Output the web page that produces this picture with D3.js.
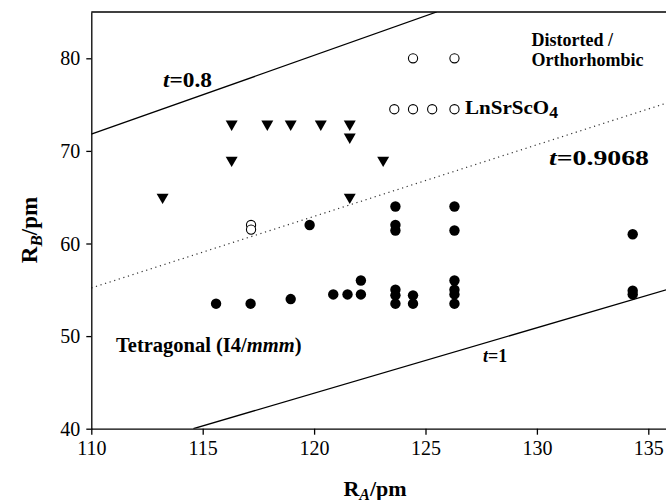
<!DOCTYPE html>
<html>
<head>
<meta charset="utf-8">
<script src="https://cdn.jsdelivr.net/npm/d3@7"></script>
<style>
  body { margin: 0; background: #fff; }
  svg text { font-family: "Liberation Serif", "Times New Roman", serif; }
</style>
</head>
<body>
<svg id="chart" width="666" height="500"></svg>
<script>
// tick labels
var xTicks = [110, 115, 120, 125, 130, 135];
var yTicks = [40, 50, 60, 70, 80];

// filled circles: tetragonal
var fillA = [115.6, 117.15, 118.95, 119.8, 120.86, 121.5, 122.1, 122.1,
             123.65, 123.65, 123.65, 123.65, 123.65, 123.65, 124.44, 124.44,
             126.3, 126.3, 126.3, 126.3, 126.3, 126.3, 134.3, 134.3, 134.3];
var fillB = [53.5, 53.5, 54.0, 62.0, 54.5, 54.5, 54.5, 56.0,
             64.0, 62.0, 61.4, 55.0, 54.4, 53.5, 54.4, 53.5,
             64.0, 61.4, 56.0, 55.0, 54.5, 53.5, 61.0, 54.9, 54.5];

// open circles: LnSrScO4
var openA = [124.44, 126.3, 123.6, 124.44, 125.3, 126.3, 117.17, 117.17];
var openB = [80.0, 80.0, 74.5, 74.5, 74.5, 74.5, 62.0, 61.5];

// triangles
var triA = [113.2, 116.3, 116.3, 117.9, 118.95, 120.3, 121.6, 121.6, 121.6, 123.1];
var triB = [65.0, 69.0, 72.9, 72.9, 72.9, 72.9, 72.9, 71.5, 65.0, 69.0];

// tolerance factor lines (end points)
var tNames = ["0.8", "0.9068", "1"];
var tA = [[110, 125.5], [110, 136], [114.58, 136]];
var tB = [[71.8, 85], [55.2, 75.3], [40, 55.14]];

var svg = d3.select("#chart");
var margin = {left: 91.3, top: 12, bottom: 71.3};
var height = +svg.attr("height");
var serif = "'Liberation Serif', 'Times New Roman', serif";

var x = d3.scaleLinear().domain([110, 136]).range([margin.left, margin.left + 26 * 22.28]);
var y = d3.scaleLinear().domain([40, 85]).range([height - margin.bottom, margin.top]);

svg.append("clipPath").attr("id", "clip")
    .append("rect")
    .attr("x", x(110)).attr("y", y(85))
    .attr("width", x(136) - x(110)).attr("height", y(40) - y(85));

// lines
var lineGen = d3.line().x(function(d) { return x(d[0]); }).y(function(d) { return y(d[1]); });
tNames.forEach(function(n, i) {
    svg.append("path")
        .attr("clip-path", "url(#clip)")
        .attr("d", lineGen([[tA[i][0], tB[i][0]], [tA[i][1], tB[i][1]]]))
        .attr("fill", "none")
        .attr("stroke", n == "0.9068" ? "#333" : "#000")
        .attr("stroke-width", n == "0.9068" ? 1.2 : 1.3)
        .attr("stroke-dasharray", n == "0.9068" ? "1.2,3.6" : null);
});

// axes
var xAxis = svg.append("g")
    .attr("transform", "translate(0," + y(40) + ")")
    .call(d3.axisBottom(x).tickValues(xTicks).tickSize(6).tickSizeOuter(0).tickPadding(6));
var yAxis = svg.append("g")
    .attr("transform", "translate(" + x(110) + ",0)")
    .call(d3.axisLeft(y).tickValues(yTicks).tickSize(5).tickSizeOuter(0).tickPadding(6));
[xAxis, yAxis].forEach(function(g) {
    g.attr("font-family", serif).attr("font-size", 20);
    g.selectAll("path, line").attr("stroke", "#000").attr("stroke-width", 1.3);
    g.selectAll("text").attr("fill", "#000");
});
xAxis.selectAll("text").attr("dy", "0.71em");
yAxis.selectAll("text").attr("dy", "0.33em");

// top frame
svg.append("line")
    .attr("x1", x(110)).attr("x2", x(136))
    .attr("y1", y(85)).attr("y2", y(85))
    .attr("stroke", "#000").attr("stroke-width", 1.3);

// markers
svg.selectAll("circle.fill")
    .data(fillA).enter().append("circle")
    .attr("class", "fill")
    .attr("cx", function(d) { return x(d); })
    .attr("cy", function(d, i) { return y(fillB[i]); })
    .attr("r", 5.2)
    .attr("fill", "#000");

svg.selectAll("circle.open")
    .data(openA).enter().append("circle")
    .attr("class", "open")
    .attr("cx", function(d) { return x(d); })
    .attr("cy", function(d, i) { return y(openB[i]); })
    .attr("r", 4.6)
    .attr("fill", "#fff")
    .attr("stroke", "#000")
    .attr("stroke-width", 1.1);

var tri = d3.symbol().type(d3.symbolTriangle).size(62);
svg.selectAll("path.tri")
    .data(triA).enter().append("path")
    .attr("class", "tri")
    .attr("d", tri)
    .attr("transform", function(d, i) { return "translate(" + x(d) + "," + y(triB[i]) + ") rotate(180)"; })
    .attr("fill", "#000");

// annotations
function label(px, py, size, parts, len) {
    var t = svg.append("text").attr("x", px).attr("y", py)
        .style("font-size", size + "px").style("font-weight", "bold");
    if (len) t.attr("textLength", len).attr("lengthAdjust", "spacingAndGlyphs");
    parts.forEach(function(p) {
        var s = t.append("tspan").text(p.t);
        if (p.i) s.style("font-style", "italic");
        if (p.dy) s.attr("dy", p.dy);
        if (p.fs) s.style("font-size", p.fs + "px");
    });
    return t;
}

label(163, 87, 20, [{t: "t", i: true}, {t: "=0.8"}], 49);
label(549, 165, 21, [{t: "t", i: true}, {t: "=0.9068"}], 100);
label(483, 362, 18, [{t: "t", i: true}, {t: "=1"}]);
label(531.5, 45.5, 18, [{t: "Distorted /"}]);
label(531.5, 65.5, 18, [{t: "Orthorhombic"}]);
label(465, 113.5, 19, [{t: "LnSrScO"}, {t: "4", dy: 4, fs: 16}], 93);
label(116, 352, 20.5, [{t: "Tetragonal (I4/"}, {t: "mmm", i: true}, {t: ")"}]);

// axis titles
label(375, 496, 22, [{t: "R"}, {t: "A", i: true, dy: 4, fs: 16}, {t: "/pm", dy: -4}])
    .attr("text-anchor", "middle");
label(0, 0, 23, [{t: "R"}, {t: "B", i: true, dy: 5, fs: 17}, {t: "/pm", dy: -5}])
    .attr("text-anchor", "middle")
    .attr("transform", "translate(37,230) rotate(-90)");
</script>
</body>
</html>
